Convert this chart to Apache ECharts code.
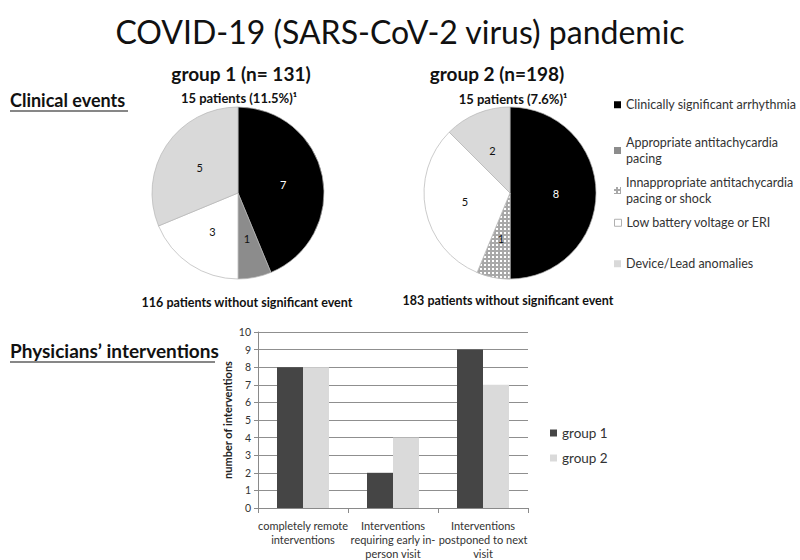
<!DOCTYPE html>
<html>
<head>
<meta charset="utf-8">
<script src="https://cdn.jsdelivr.net/npm/echarts@6/dist/echarts.min.js"></script>
<style>
html,body{margin:0;padding:0;background:#fff;}
#chart{width:800px;height:560px;}
</style>
</head>
<body>
<div id="chart"></div>
<script>
// ---- data ----
const eventCategories = [
  'Clinically significant arrhythmia',
  'Appropriate antitachycardia pacing',
  'Innappropriate antitachycardia pacing or shock',
  'Low battery voltage or ERI',
  'Device/Lead anomalies'
];
const eventLegendLabels = [
  'Clinically significant arrhythmia',
  'Appropriate antitachycardia\npacing',
  'Innappropriate antitachycardia\npacing or shock',
  'Low battery voltage or ERI',
  'Device/Lead anomalies'
];
const group1Events = [7, 1, 0, 3, 5];
const group2Events = [8, 0, 1, 5, 2];

const interventionCategories = [
  'completely remote\ninterventions',
  'Interventions\nrequiring early in-\nperson visit',
  'Interventions\npostponed to next\nvisit'
];
const group1Interventions = [8, 2, 9];
const group2Interventions = [8, 4, 7];
const barSeriesNames = ['group 1', 'group 2'];
const yAxisMin = 0, yAxisMax = 10, yAxisInterval = 1;

// ---- styles ----
const FONT = 'Lato, "Open Sans", sans-serif';
const eventColors = ['#000000', '#8c8c8c', '#a8a8a8', '#ffffff', '#d9d9d9'];
const eventLabelColors = ['#ffffff', '#111', '#111', '#111', '#111'];
const patternDecal = {symbol: 'rect', symbolSize: 1, color: '#ffffff', dashArrayX: [[2, 2]], dashArrayY: [2, 2], rotation: 0};
const eventDecals = [null, null, patternDecal, null, null];

function pieData(values) {
  const out = [];
  values.forEach((v, i) => {
    if (v <= 0) return;
    const item = {
      name: eventCategories[i],
      value: v,
      itemStyle: {color: eventColors[i], borderColor: '#b5b5b5', borderWidth: 0.7},
      label: {color: eventLabelColors[i], textBorderWidth: 0, textShadowBlur: 0}
    };
    if (eventDecals[i]) item.itemStyle.decal = eventDecals[i];
    out.push(item);
  });
  return out;
}

const legendTops = [92, 130, 170, 210, 251];
const eventLegends = eventCategories.map((name, i) => ({
  data: [name],
  left: 609,
  top: legendTops[i],
  icon: 'rect',
  itemWidth: 7,
  itemHeight: 7,
  itemGap: 4,
  selectedMode: false,
  itemStyle: {
    color: eventColors[i],
    borderColor: i === 3 ? '#b0b0b0' : eventColors[i],
    borderWidth: i === 3 ? 1 : 0,
    decal: eventDecals[i] || 'none'
  },
  formatter: () => eventLegendLabels[i],
  textStyle: {fontFamily: FONT, fontSize: 12.5, color: '#333', lineHeight: 15.5, padding: [0, 0, 0, 0]}
}));

const chart = echarts.init(document.getElementById('chart'), null, {renderer: 'svg'});

const option = {
  backgroundColor: '#ffffff',
  animation: false,
  aria: {enabled: false},
  legend: eventLegends.concat([{
    data: barSeriesNames,
    orient: 'vertical',
    left: 545,
    top: 421,
    icon: 'rect',
    itemWidth: 7,
    itemHeight: 7,
    itemGap: 11,
    selectedMode: false,
    itemStyle: {borderWidth: 0},
    textStyle: {fontFamily: FONT, fontSize: 13.5, color: '#333'}
  }]),
  grid: {left: 258, right: 272, top: 332, bottom: 52},
  xAxis: {
    type: 'category',
    data: interventionCategories,
    axisLine: {lineStyle: {color: '#8a8a8a'}},
    axisTick: {show: true, length: 5, lineStyle: {color: '#8a8a8a'}},
    axisLabel: {interval: 0, fontFamily: FONT, fontSize: 11, color: '#333', lineHeight: 14, margin: 10}
  },
  yAxis: {
    type: 'value',
    min: yAxisMin,
    max: yAxisMax,
    interval: yAxisInterval,
    name: 'number of interventions',
    nameLocation: 'middle',
    nameGap: 25,
    nameRotate: 90,
    nameTextStyle: {fontFamily: FONT, fontSize: 11, fontWeight: 'bold', color: '#222'},
    axisLine: {show: true, lineStyle: {color: '#8a8a8a'}},
    axisTick: {show: true, length: 4, lineStyle: {color: '#8a8a8a'}},
    axisLabel: {fontFamily: FONT, fontSize: 10.5, color: '#333', margin: 7},
    splitLine: {lineStyle: {color: '#8f8f8f', width: 1}}
  },
  series: [
    {
      type: 'pie',
      name: 'group 1 events',
      center: [238, 193],
      radius: 86,
      startAngle: 90,
      clockwise: true,
      label: {position: 'inside', fontFamily: FONT, fontSize: 11, formatter: '{c}'},
      labelLine: {show: false},
      emphasis: {disabled: true},
      data: pieData(group1Events)
    },
    {
      type: 'pie',
      name: 'group 2 events',
      center: [510, 193],
      radius: 86,
      startAngle: 90,
      clockwise: true,
      label: {position: 'inside', fontFamily: FONT, fontSize: 11, formatter: '{c}'},
      labelLine: {show: false},
      emphasis: {disabled: true},
      data: pieData(group2Events)
    },
    {
      type: 'bar',
      name: barSeriesNames[0],
      data: group1Interventions,
      barWidth: 26,
      barGap: '0%',
      itemStyle: {color: '#454545'}
    },
    {
      type: 'bar',
      name: barSeriesNames[1],
      data: group2Interventions,
      barWidth: 26,
      barGap: '0%',
      itemStyle: {color: '#dadada'}
    }
  ],
  graphic: [
    {type: 'text', x: 400, y: 31, style: {text: 'COVID-19 (SARS-CoV-2 virus) pandemic', font: '32px ' + FONT, fill: '#111', textAlign: 'center', textVerticalAlign: 'middle'}},
    {type: 'text', x: 10, y: 100, style: {text: 'Clinical events', font: 'bold 18px ' + FONT, fill: '#111', textAlign: 'left', textVerticalAlign: 'middle'}},
    {type: 'line', shape: {x1: 10, y1: 111, x2: 128, y2: 111}, style: {stroke: '#111', lineWidth: 1.2}},
    {type: 'text', x: 10, y: 350, style: {text: 'Physicians\u2019 interventions', font: 'bold 19px ' + FONT, fill: '#111', textAlign: 'left', textVerticalAlign: 'middle'}},
    {type: 'line', shape: {x1: 10, y1: 362, x2: 215, y2: 362}, style: {stroke: '#111', lineWidth: 1.2}},
    {type: 'text', x: 241, y: 73, style: {text: 'group 1 (n= 131)', font: 'bold 19px ' + FONT, fill: '#111', textAlign: 'center', textVerticalAlign: 'middle'}},
    {type: 'text', x: 497, y: 73, style: {text: 'group 2 (n=198)', font: 'bold 19px ' + FONT, fill: '#111', textAlign: 'center', textVerticalAlign: 'middle'}},
    {type: 'text', x: 239, y: 98, style: {text: '15 patients (11.5%)\u00B9', font: 'bold 13px ' + FONT, fill: '#111', textAlign: 'center', textVerticalAlign: 'middle'}},
    {type: 'text', x: 513, y: 99, style: {text: '15 patients (7.6%)\u00B9', font: 'bold 13px ' + FONT, fill: '#111', textAlign: 'center', textVerticalAlign: 'middle'}},
    {type: 'text', x: 247, y: 302, style: {text: '116 patients without significant event', font: 'bold 12.5px ' + FONT, fill: '#111', textAlign: 'center', textVerticalAlign: 'middle'}},
    {type: 'text', x: 508, y: 300, style: {text: '183 patients without significant event', font: 'bold 12.5px ' + FONT, fill: '#111', textAlign: 'center', textVerticalAlign: 'middle'}}
  ]
};
chart.setOption(option);
</script>
</body>
</html>
